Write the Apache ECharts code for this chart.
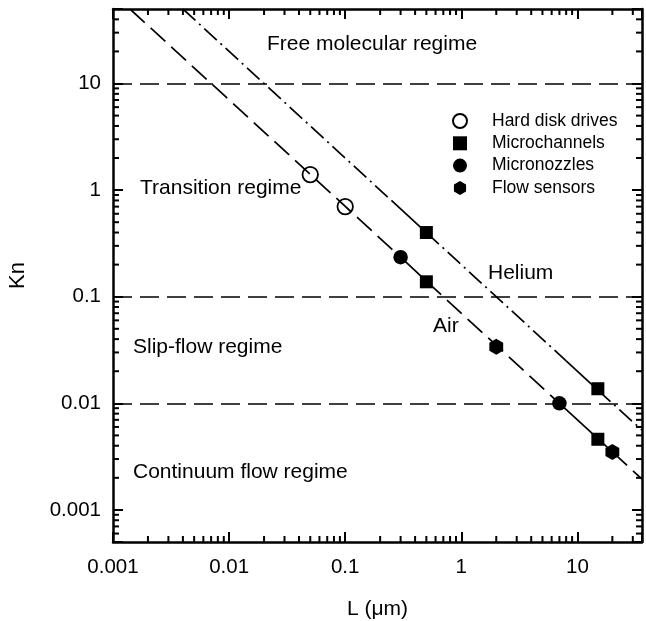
<!DOCTYPE html>
<html>
<head>
<meta charset="utf-8">
<script src="https://cdn.jsdelivr.net/npm/echarts@6/dist/echarts.min.js"></script>
<style>
  html, body { margin: 0; padding: 0; background: #fff; }
  #chart { width: 646px; height: 621px; }
</style>
</head>
<body>
<div id="chart"></div>
<script>
// measured points (L in um, Kn)
const hardDisk = [[0.05, 1.4], [0.1, 0.7]]
const microchannels = [[0.5, 0.4], [0.5, 0.138], [15, 0.0137], [15, 0.0046]]
const micronozzles = [[0.3, 0.235], [7, 0.01]]
const flowSensors = [[2, 0.034], [20, 0.0035]]

// gas lines, vertices, split where the dash style changes
const airDashed = [[[0.0014, 50], [0.3, 0.235]], [[0.5, 0.14], [7, 0.01]], [[20, 0.0035], [36, 0.00194]]]
const airSolid = [[[0.3, 0.235], [0.5, 0.14]], [[7, 0.01], [20, 0.0035]]]
const heliumDashDot = [[[0.004, 50], [0.25, 0.8]], [[0.5, 0.4], [8, 0.025]], [[15, 0.0133], [36, 0.0056]]]
const heliumSolid = [[[0.25, 0.8], [0.5, 0.4]], [[8, 0.025], [15, 0.0133]]]

// regime boundaries
const regimeKn = [10, 0.1, 0.01]

// axes
const xMin = 0.001
const xMax = 36
const yMin = 0.0005
const yMax = 50
const xTickLabels = ['0.001', '0.01', '0.1', '1', '10']
const yTickLabels = ['0.001', '0.01', '0.1', '1', '10']
const xMinor = [0.002, 0.003, 0.004, 0.005, 0.006, 0.007, 0.008, 0.009,
  0.02, 0.03, 0.04, 0.05, 0.06, 0.07, 0.08, 0.09,
  0.2, 0.3, 0.4, 0.5, 0.6, 0.7, 0.8, 0.9,
  2, 3, 4, 5, 6, 7, 8, 9, 20, 30]
const yMinor = [0.0006, 0.0007, 0.0008, 0.0009,
  0.002, 0.003, 0.004, 0.005, 0.006, 0.007, 0.008, 0.009,
  0.02, 0.03, 0.04, 0.05, 0.06, 0.07, 0.08, 0.09,
  0.2, 0.3, 0.4, 0.5, 0.6, 0.7, 0.8, 0.9,
  2, 3, 4, 5, 6, 7, 8, 9, 20, 30, 40]

const FONT = 'Liberation Sans, Arial, sans-serif'
const hexagon = 'path://M0,-1L0.866,-0.5L0.866,0.5L0,1L-0.866,0.5L-0.866,-0.5Z'

function pickLabel(list) {
  return v => {
    const hit = list.find(s => Math.abs(Math.log10(Number(s)) - Math.log10(v)) < 1e-6)
    return hit || ''
  }
}

function axisX(pos, labels) {
  return {
    type: 'log',
    logBase: 10,
    position: pos,
    min: xMin,
    max: xMax,
    name: pos === 'bottom' ? 'L (\u03bcm)' : '',
    nameLocation: 'middle',
    nameGap: 57,
    nameTextStyle: { fontSize: 21, fontFamily: FONT, color: '#000' },
    axisLine: { show: true, onZero: false, lineStyle: { color: '#000', width: 2.5 } },
    axisTick: { show: true, inside: true, length: 10, lineStyle: { color: '#000', width: 2 } },
    axisLabel: {
      show: labels,
      margin: 15,
      fontSize: 20.5,
      fontFamily: FONT,
      color: '#000',
      formatter: pickLabel(xTickLabels)
    },
    splitLine: { show: false }
  }
}

function axisY(pos, labels) {
  return {
    type: 'log',
    logBase: 10,
    position: pos,
    min: yMin,
    max: yMax,
    name: pos === 'left' ? 'Kn' : '',
    nameLocation: 'middle',
    nameGap: 84,
    nameTextStyle: { fontSize: 22, fontFamily: FONT, color: '#000' },
    axisLine: { show: true, onZero: false, lineStyle: { color: '#000', width: 2.5 } },
    axisTick: { show: true, inside: true, length: 10, lineStyle: { color: '#000', width: 2 } },
    axisLabel: {
      show: labels,
      margin: 12,
      fontSize: 20.5,
      fontFamily: FONT,
      color: '#000',
      formatter: pickLabel(yTickLabels)
    },
    splitLine: { show: false }
  }
}

function segSeries(segs, dash) {
  return segs.map(s => ({
    type: 'line',
    data: s,
    showSymbol: false,
    silent: true,
    z: 2,
    lineStyle: { color: '#000', width: 1.7, type: dash }
  }))
}

const MINOR = 6
const chart = echarts.init(document.getElementById('chart'))
chart.setOption({
  animation: false,
  backgroundColor: '#fff',
  grid: { left: 113, right: 4, top: 9, bottom: 79, containLabel: false, outerBoundsMode: 'none' },
  xAxis: [axisX('bottom', true), axisX('top', false)],
  yAxis: [axisY('left', true), axisY('right', false)],
  legend: {
    data: ['Hard disk drives', 'Microchannels', 'Micronozzles', 'Flow sensors'],
    orient: 'vertical',
    left: 447,
    top: 107,
    itemWidth: 14,
    itemHeight: 14,
    itemGap: 4.3,
    selectedMode: false,
    textStyle: { fontSize: 17.5, fontFamily: FONT, color: '#000', lineHeight: 18, padding: [0, 0, 0, 20] }
  },
  graphic: [
    { type: 'text', left: 267, top: 34, style: { text: 'Free molecular regime', font: '21px ' + FONT, fill: '#000' } },
    { type: 'text', left: 140, top: 178, style: { text: 'Transition regime', font: '21px ' + FONT, fill: '#000' } },
    { type: 'text', left: 133, top: 337, style: { text: 'Slip-flow regime', font: '21px ' + FONT, fill: '#000' } },
    { type: 'text', left: 133, top: 462, style: { text: 'Continuum flow regime', font: '21px ' + FONT, fill: '#000' } },
    { type: 'text', left: 488, top: 263, style: { text: 'Helium', font: '21px ' + FONT, fill: '#000' } },
    { type: 'text', left: 433, top: 316, style: { text: 'Air', font: '21px ' + FONT, fill: '#000' } }
  ],
  series: [
    {
      type: 'line',
      data: [],
      silent: true,
      markLine: {
        symbol: 'none',
        silent: true,
        label: { show: false },
        lineStyle: { color: '#000', width: 1.7, type: [19, 8] },
        data: regimeKn.map(k => ({ yAxis: k }))
      }
    },
    ...segSeries(airDashed, [20, 8]),
    ...segSeries(airSolid, 'solid'),
    ...segSeries(heliumDashDot, [17, 5, 2, 5]),
    ...segSeries(heliumSolid, 'solid'),
    {
      type: 'custom',
      silent: true,
      clip: false,
      data: xMinor.map(v => [v, yMin]),
      renderItem: (params, api) => {
        const b = api.coord([api.value(0), yMin])
        const t = api.coord([api.value(0), yMax])
        const st = { stroke: '#000', lineWidth: 2 }
        return {
          type: 'group',
          children: [
            { type: 'line', shape: { x1: b[0], y1: b[1], x2: b[0], y2: b[1] - MINOR }, style: st },
            { type: 'line', shape: { x1: t[0], y1: t[1], x2: t[0], y2: t[1] + MINOR }, style: st }
          ]
        }
      }
    },
    {
      type: 'custom',
      silent: true,
      clip: false,
      data: yMinor.map(v => [xMin, v]),
      renderItem: (params, api) => {
        const l = api.coord([xMin, api.value(1)])
        const r = api.coord([xMax, api.value(1)])
        const st = { stroke: '#000', lineWidth: 2 }
        return {
          type: 'group',
          children: [
            { type: 'line', shape: { x1: l[0], y1: l[1], x2: l[0] + MINOR, y2: l[1] }, style: st },
            { type: 'line', shape: { x1: r[0], y1: r[1], x2: r[0] - MINOR, y2: r[1] }, style: st }
          ]
        }
      }
    },
    {
      name: 'Hard disk drives',
      type: 'scatter',
      data: hardDisk,
      symbol: 'circle',
      symbolSize: 15.5,
      z: 5,
      itemStyle: { color: 'rgba(0,0,0,0)', borderColor: '#000', borderWidth: 1.8, opacity: 1 }
    },
    {
      name: 'Microchannels',
      type: 'scatter',
      data: microchannels,
      symbol: 'rect',
      symbolSize: 13,
      z: 5,
      itemStyle: { color: '#000', opacity: 1 }
    },
    {
      name: 'Micronozzles',
      type: 'scatter',
      data: micronozzles,
      symbol: 'circle',
      symbolSize: 14.5,
      z: 5,
      itemStyle: { color: '#000', opacity: 1 }
    },
    {
      name: 'Flow sensors',
      type: 'scatter',
      data: flowSensors,
      symbol: hexagon,
      symbolKeepAspect: true,
      symbolSize: 16,
      z: 5,
      itemStyle: { color: '#000', opacity: 1 }
    }
  ]
})
</script>
</body>
</html>
